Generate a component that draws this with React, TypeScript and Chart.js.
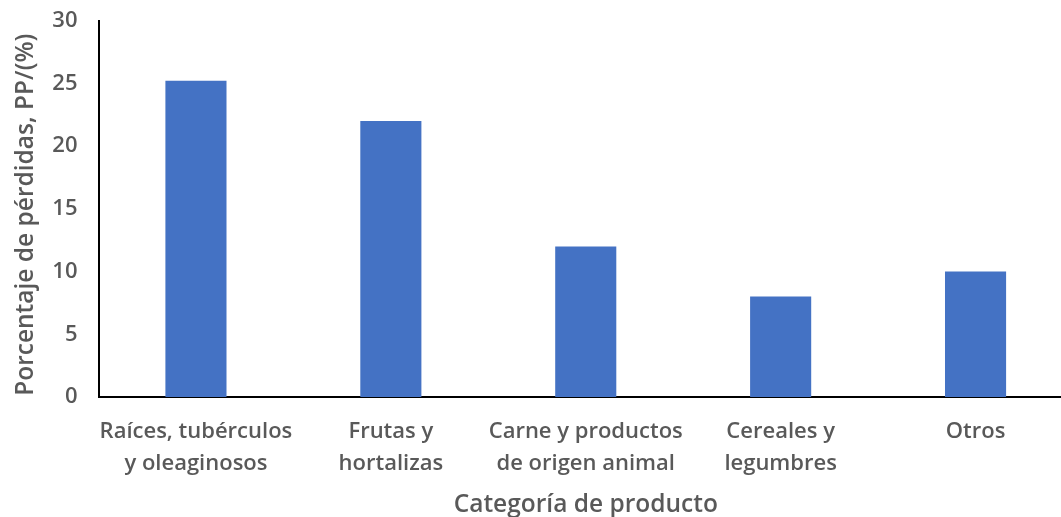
import React, { useEffect, useRef } from "react";
import { Chart, registerables } from "chart.js";

Chart.register(...registerables);

// Categories (multi-line tick labels) and loss percentages
const categories: (string | string[])[] = [
  ["Raíces, tubérculos", "y oleaginosos"],
  ["Frutas y", "hortalizas"],
  ["Carne y productos", "de origen animal"],
  ["Cereales y", "legumbres"],
  "Otros",
];
const lossPercent = [25.2, 22, 12, 8, 10];

const yTitle = "Porcentaje de pérdidas, PP/(%)";
const xTitle = "Categoría de producto";

const TEXT = "#595959";
const BAR = "#4472C4";
const FONT = "'Open Sans', sans-serif";

// Rotated y-axis title, centred a little below the plot's vertical middle
const yTitlePlugin = {
  id: "yTitle",
  afterDraw(chart: any) {
    const { ctx, chartArea } = chart;
    ctx.save();
    ctx.translate(26, (chartArea.top + chartArea.bottom) / 2 + 6);
    ctx.rotate(-Math.PI / 2);
    ctx.font = `600 24.5px ${FONT}`;
    ctx.fillStyle = TEXT;
    ctx.textAlign = "center";
    ctx.textBaseline = "middle";
    ctx.fillText(yTitle, 0, 0);
    ctx.restore();
  },
};

export default function App() {
  const ref = useRef<HTMLCanvasElement | null>(null);

  useEffect(() => {
    if (!ref.current) return;
    const chart = new Chart(ref.current, {
      type: "bar",
      data: {
        labels: categories,
        datasets: [
          {
            data: lossPercent,
            backgroundColor: BAR,
            borderWidth: 0,
            categoryPercentage: 1,
            barPercentage: 0.3135,
          },
        ],
      },
      options: {
        responsive: false,
        animation: false,
        layout: { padding: { top: 20.5, right: 17, bottom: 0, left: 0 } },
        plugins: {
          legend: { display: false },
          tooltip: { enabled: false },
        },
        scales: {
          x: {
            grid: { display: false, drawTicks: false },
            border: { display: true, color: "#000000", width: 2 },
            ticks: {
              color: TEXT,
              font: { family: FONT, size: 22, weight: "600", lineHeight: 1.45 },
              padding: 19,
              maxRotation: 0,
              autoSkip: false,
            },
            title: {
              display: true,
              text: xTitle,
              color: TEXT,
              font: { family: FONT, size: 24.5, weight: "600", lineHeight: 1.0 },
              padding: { top: 0, bottom: 0 },
            },
            afterFit: (scale: any) => {
              scale.height = 120;
            },
          },
          y: {
            min: 0,
            max: 30,
            grid: { display: false, drawTicks: true, tickLength: 21 },
            border: { display: true, color: "#000000", width: 2 },
            ticks: {
              stepSize: 5,
              color: TEXT,
              font: { family: FONT, size: 22, weight: "600", lineHeight: 1.2 },
              padding: 0,
            },
            afterFit: (scale: any) => {
              scale.width = 98.5;
            },
          },
        },
      },
      plugins: [yTitlePlugin],
    });
    return () => chart.destroy();
  }, []);

  return (
    <div
      style={{
        position: "fixed",
        left: 0,
        top: 0,
        width: 1061,
        height: 517,
        overflow: "hidden",
        background: "#ffffff",
      }}
    >
      <canvas ref={ref} width={1090} height={517} style={{ display: "block" }} />
    </div>
  );
}
